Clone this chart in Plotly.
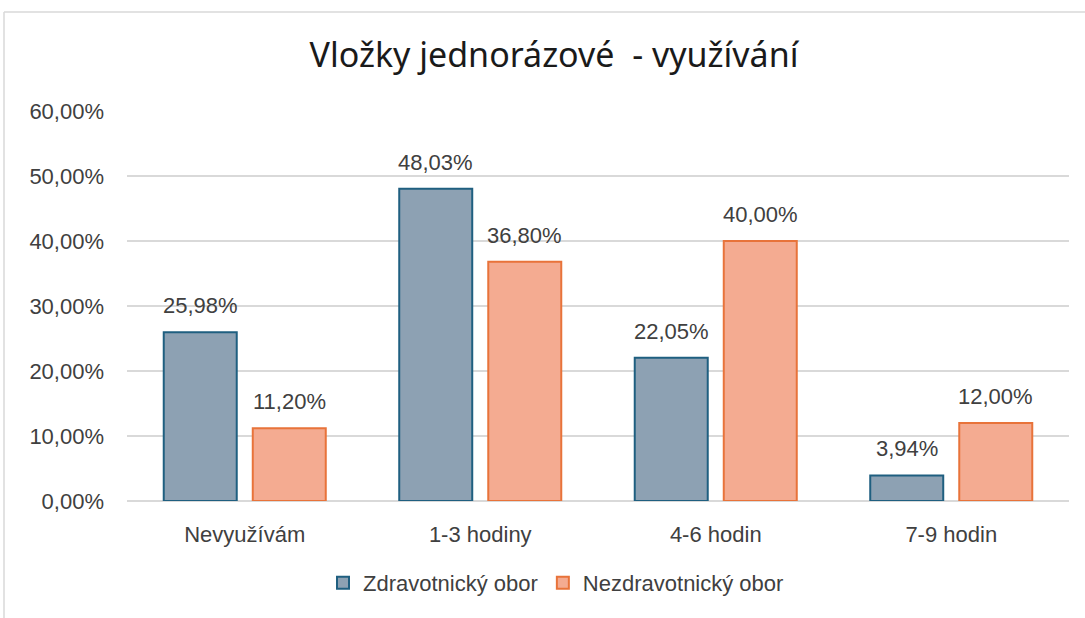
import plotly.graph_objects as go

categories = ["Nevyužívám", "1-3 hodiny", "4-6 hodin", "7-9 hodin"]
zdrav = [25.98, 48.03, 22.05, 3.94]
nezdrav = [11.20, 36.80, 40.00, 12.00]
series_names = ["Zdravotnický obor", "Nezdravotnický obor"]

OFF = 0  # page body margin removed by post_script
W, H = 1085, 618
L, R, T, B = 127, 16, 111, 117
pw, ph = W - L - R, H - T - B

def px(x):
    return (x - OFF - L) / pw

def py(y):
    return (H - B - (y - OFF)) / ph

FONT = "Liberation Sans, Arial, sans-serif"
TXT = "#404040"

fig = go.Figure()
fig.add_trace(go.Bar(
    name=series_names[0], x=categories, y=zdrav,
    marker=dict(color="#8da1b3", line=dict(color="#1f5f80", width=2)),
))
fig.add_trace(go.Bar(
    name=series_names[1], x=categories, y=nezdrav,
    marker=dict(color="#f4ab91", line=dict(color="#e8733a", width=2)),
))

cat_px = pw / len(categories)
bargap, bargroupgap = 0.244, 0.18
slot = cat_px * (1 - bargap) / 2
annotations = []
for vals, sign in ((zdrav, -1), (nezdrav, 1)):
    for c, v in zip(categories, vals):
        annotations.append(dict(
            x=c, y=v, xref="x", yref="y", text=f"{v:.2f}%".replace(".", ","),
            showarrow=False, xanchor="center", yanchor="bottom",
            xshift=sign * slot / 2, yshift=12,
            font=dict(size=22, color=TXT, family=FONT),
        ))

fig.update_layout(
    width=W, height=H,
    margin=dict(l=L, r=R, t=T, b=B),
    paper_bgcolor="white", plot_bgcolor="white",
    separators=", ",
    font=dict(family=FONT, size=22, color=TXT),
    title=dict(text="Vložky jednorázové  - využívání", xref="container",
               x=(554 - OFF) / W, xanchor="center",
               y=1 - (55 - OFF) / H, yanchor="middle",
               font=dict(size=34, color="#1a1a1a", family="Noto Sans, Liberation Sans, sans-serif")),
    barmode="group", bargap=bargap, bargroupgap=bargroupgap,
    showlegend=True,
    legend=dict(orientation="h", x=px(556), xanchor="center", y=py(583), yanchor="middle",
                font=dict(size=22, color=TXT), traceorder="normal",
                itemwidth=30, tracegroupgap=0),
    yaxis=dict(range=[0, 60], dtick=10, tickformat=".2f", ticksuffix="%",
               showgrid=True, gridcolor="#d9d9d9", gridwidth=1.5,
               zeroline=True, zerolinecolor="#d9d9d9", zerolinewidth=1.5,
               showline=False, ticks="", ticklabelstandoff=22,
               tickfont=dict(size=22, color=TXT)),
    xaxis=dict(showline=False, ticks="", tickfont=dict(size=22, color=TXT),
               ticklabelstandoff=18),
    annotations=annotations,
    shapes=[
        dict(type="line", xref="paper", yref="paper", x0=px(4), x1=px(1100), y0=py(12), y1=py(12),
             line=dict(color="#d9d9d9", width=1.5)),
        dict(type="line", xref="paper", yref="paper", x0=px(4), x1=px(4), y0=py(12), y1=py(640),
             line=dict(color="#d9d9d9", width=1.5)),
    ],
)

fig.write_html("out.html", config={"displayModeBar": False},
               post_script="document.body.style.margin='0px';")
